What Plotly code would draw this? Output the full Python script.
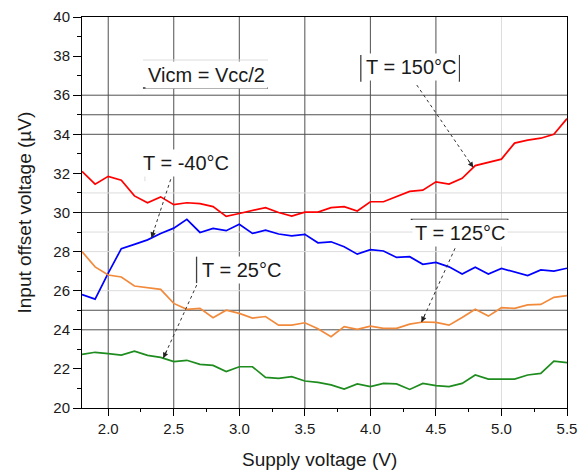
import numpy as np
import plotly.graph_objects as go

# Supply voltage sweep (V)
supply_v = [round(1.8 + 0.1 * i, 1) for i in range(38)]

# Input offset voltage (µV) per temperature
vos_150c = [32.1, 31.45, 31.85, 31.65, 30.85, 30.5, 30.8, 30.4, 30.5, 30.45,
            30.3, 29.8, 29.95, 30.1, 30.25, 30.0, 29.82, 30.02, 30.02, 30.25,
            30.3, 30.08, 30.55, 30.55, 30.8, 31.08, 31.14, 31.57, 31.45, 31.75,
            32.4, 32.56, 32.73, 33.55, 33.7, 33.8, 34.0, 34.8]
vos_m40c = [25.8, 25.57, 26.9, 28.15, 28.37, 28.6, 28.93, 29.2, 29.65, 28.98,
            29.19, 29.07, 29.4, 28.93, 29.1, 28.9, 28.8, 28.88, 28.45, 28.5,
            28.25, 27.87, 28.1, 28.03, 27.7, 27.74, 27.35, 27.45, 27.22, 26.85,
            27.2, 26.85, 27.14, 26.94, 26.77, 27.06, 27.0, 27.15]
vos_125c = [28.0, 27.22, 26.8, 26.7, 26.24, 26.15, 26.07, 25.35, 25.05, 25.1,
            24.62, 25.0, 24.84, 24.6, 24.68, 24.24, 24.24, 24.36, 24.05, 23.65,
            24.16, 24.02, 24.19, 24.07, 24.07, 24.29, 24.4, 24.38, 24.24, 24.63,
            25.05, 24.7, 25.13, 25.1, 25.27, 25.3, 25.66, 25.75]
vos_25c = [22.74, 22.85, 22.78, 22.71, 22.91, 22.69, 22.59, 22.37, 22.44, 22.23,
           22.18, 21.86, 22.11, 22.11, 21.57, 21.52, 21.6, 21.38, 21.31, 21.18,
           20.97, 21.23, 21.09, 21.26, 21.23, 20.95, 21.26, 21.14, 21.09, 21.26,
           21.69, 21.48, 21.48, 21.48, 21.69, 21.77, 22.4, 22.32]

x_ticks = [2.0, 2.5, 3.0, 3.5, 4.0, 4.5, 5.0, 5.5]
y_ticks = [20, 22, 24, 26, 28, 30, 32, 34, 36, 38, 40]

FONT = "Liberation Sans, Arial, sans-serif"
INK = "#1a1a1a"
DARK_GRID = "#505050"
LIGHT_GRID = "#dcdcdc"

# plot-area scale (pixels per unit) used to orient the arrowheads
PX_PER_V = 485 / 3.7
PX_PER_UV = 391 / 20

fig = go.Figure()

series = [
    (vos_150c, "#ff0000", "T = 150°C"),
    (vos_m40c, "#0000ff", "T = -40°C"),
    (vos_125c, "#f28a3c", "T = 125°C"),
    (vos_25c, "#1e8c1e", "T = 25°C"),
]
for ys, color, name in series:
    fig.add_trace(go.Scatter(x=supply_v, y=ys, mode="lines", name=name,
                             line=dict(color=color, width=1.7),
                             showlegend=False))

shapes = []
# vertical grid lines
for xv, col in [(2.0, DARK_GRID), (2.5, DARK_GRID), (3.0, DARK_GRID),
                (3.5, DARK_GRID), (4.0, DARK_GRID), (4.5, DARK_GRID),
                (5.0, LIGHT_GRID)]:
    shapes.append(dict(type="line", xref="x", yref="y", x0=xv, x1=xv, y0=20, y1=40,
                       line=dict(color=col, width=1), layer="below"))
# horizontal grid lines
for yv, col in [(24, DARK_GRID), (25, DARK_GRID), (26, LIGHT_GRID), (28, LIGHT_GRID),
                (29, LIGHT_GRID), (30, DARK_GRID), (31, LIGHT_GRID),
                (34, DARK_GRID), (35, DARK_GRID), (36, DARK_GRID)]:
    shapes.append(dict(type="line", xref="x", yref="y", x0=1.8, x1=5.5, y0=yv, y1=yv,
                       line=dict(color=col, width=1), layer="below"))

annotations = []


def label(text, xv, yv):
    annotations.append(dict(x=xv, y=yv, xref="x", yref="y", text=text, showarrow=False,
                            font=dict(family=FONT, size=20, color=INK),
                            bgcolor="white", borderpad=2))


def seg(x0, y0, x1, y1, color=DARK_GRID, width=1.2, dash="solid"):
    shapes.append(dict(type="line", xref="x", yref="y", x0=x0, y0=y0, x1=x1, y1=y1,
                       line=dict(color=color, width=width, dash=dash), layer="above"))


def pointer(x0, y0, xtip, ys):
    ytip = float(np.interp(xtip, supply_v, ys))
    seg(x0, y0, xtip, ytip, color="#333333", width=1, dash="dot")
    # short solid stem carrying the arrowhead
    px = (xtip - x0) * PX_PER_V
    py = -(ytip - y0) * PX_PER_UV
    n = (px ** 2 + py ** 2) ** 0.5
    annotations.append(dict(x=xtip, y=ytip, xref="x", yref="y", text="",
                            showarrow=True, arrowhead=2, arrowsize=1.1, arrowwidth=1,
                            arrowcolor="#222222", ax=-px / n * 10, ay=-py / n * 10))


# Vicm = Vcc/2
label("Vicm = Vcc/2", 2.746, 37.03)
seg(2.265, 36.37, 3.219, 36.37, color="#303030", width=1.4)
seg(2.265, 37.8, 3.219, 37.8, color=LIGHT_GRID, width=1)

# T = -40°C
label("T = -40°C", 2.597, 32.53)
seg(2.28, 33.0, 2.28, 31.6, color=LIGHT_GRID, width=1)
pointer(2.477, 31.70, 2.33, vos_m40c)

# T = 150°C
label("T = 150°C", 4.31, 37.44)
seg(3.927, 38.06, 3.927, 36.69, color="#404040", width=1.3)
seg(4.679, 38.06, 4.679, 36.69, color="#404040", width=1.3)
pointer(4.354, 36.52, 4.785, vos_150c)

# T = 125°C
label("T = 125°C", 4.684, 28.95)
seg(4.308, 29.65, 5.053, 29.65, color="#303030", width=1.4)
pointer(4.646, 28.17, 4.39, vos_125c)

# T = 25°C
label("T = 25°C", 3.013, 27.06)
seg(2.674, 27.74, 2.674, 26.39, color="#404040", width=1.3)
pointer(2.675, 26.29, 2.42, vos_25c)

# axis titles
annotations.append(dict(text="Supply voltage (V)", xref="paper", yref="paper",
                        x=0.49, y=0, yshift=-51, xanchor="center", yanchor="middle",
                        showarrow=False, font=dict(family=FONT, size=19, color=INK)))
annotations.append(dict(text="Input offset voltage (µV)", xref="paper", yref="paper",
                        x=0, y=0.5, xshift=-58, xanchor="center", yanchor="middle",
                        textangle=-90, showarrow=False,
                        font=dict(family=FONT, size=19, color=INK)))

fig.update_layout(
    width=581, height=472,
    margin=dict(l=82, r=14, t=17, b=64),
    paper_bgcolor="white", plot_bgcolor="white",
    font=dict(family=FONT, color=INK, size=15),
    shapes=shapes, annotations=annotations,
    xaxis=dict(range=[1.8, 5.5], tickvals=x_ticks, tickformat=".1f",
               ticks="outside", ticklen=7, tickwidth=1, tickcolor="black",
               minor=dict(dtick=0.25, tick0=2.0, ticks="outside", ticklen=3,
                          tickcolor="black", showgrid=False),
               showgrid=False, zeroline=False, showline=True, linecolor="black",
               linewidth=1, mirror=True, automargin=False,
               tickfont=dict(size=15, color=INK)),
    yaxis=dict(range=[20, 40], tickvals=y_ticks,
               ticks="outside", ticklen=8, tickwidth=1, tickcolor="black",
               minor=dict(dtick=1, tick0=20, ticks="outside", ticklen=4,
                          tickcolor="black", showgrid=False),
               showgrid=False, zeroline=False, showline=True, linecolor="black",
               linewidth=1, mirror=True, automargin=False,
               tickfont=dict(size=15, color=INK)),
)

fig.write_html("out.html")
